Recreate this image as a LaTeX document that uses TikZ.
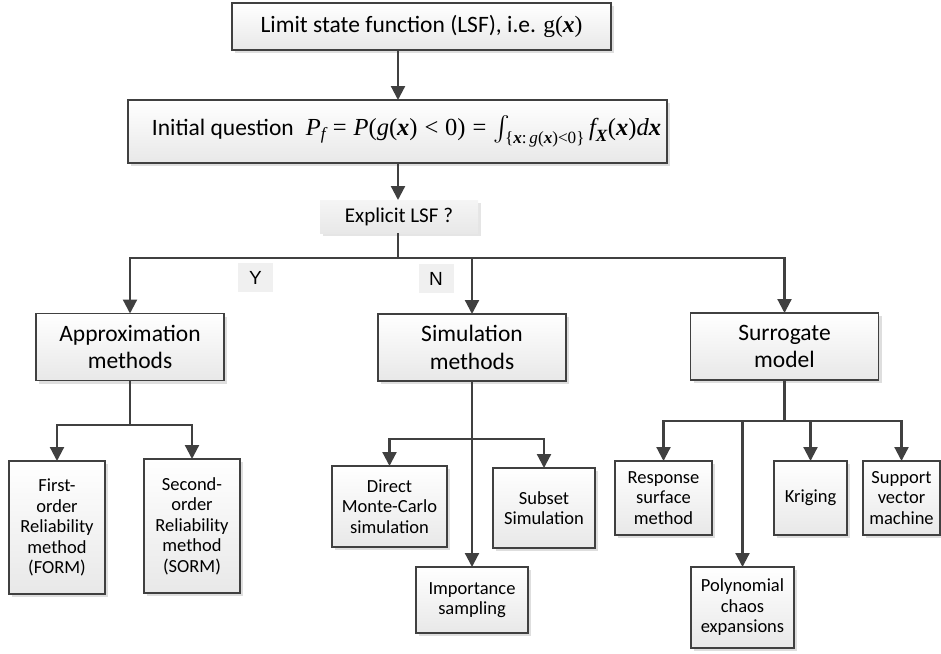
\documentclass[tikz,border=0pt]{standalone}
\usepackage{amsmath}
\usepackage[no-math]{fontspec}
\setmainfont{Carlito}
\newfontfamily\tms{Liberation Serif}
\newfontfamily\arl{Liberation Sans}
\newcommand{\ti}[1]{\text{\tms\itshape #1}}
\newcommand{\tb}[1]{\text{\tms\bfseries\itshape #1}}
\newcommand{\tr}[1]{\text{\tms #1}}
\newcommand{\teq}{\mathrel{\tr{=}}}
\newcommand{\tlt}{\mathrel{\tr{<}}}
\usetikzlibrary{arrows.meta,shadows}
\definecolor{ln}{HTML}{404040}
\definecolor{bot}{HTML}{E8E8E8}
\definecolor{lab}{HTML}{F0F0F0}
\tikzset{
  box/.style={draw=ln, line width=1.8pt, top color=white, bottom color=bot,
    drop shadow={shadow xshift=3pt, shadow yshift=-3pt, fill=black, opacity=0.13},
    align=center, inner sep=0pt, outer sep=0pt},
  dbox/.style={top color=white!96!black, bottom color=bot,
    drop shadow={shadow xshift=3pt, shadow yshift=-3pt, fill=black, opacity=0.10},
    align=center, inner sep=0pt, outer sep=0pt},
  labbox/.style={fill=lab, inner sep=0pt, outer sep=0pt, minimum width=35, minimum height=29,
    font=\arl\fontsize{19}{21}\selectfont},
  lvltwo/.style={box, minimum width=188, minimum height=67, font=\fontsize{23.5}{27.5}\selectfont},
  leaf/.style={box, font=\fontsize{18.5}{20.5}\selectfont},
  arr/.style={draw=ln, line width=2.2pt, line join=miter, -{Triangle[length=14pt,width=14pt]}},
  ln/.style={draw=ln, line width=2.2pt}
}
\begin{document}
\begin{tikzpicture}[x=1pt,y=-1pt]
\useasboundingbox (0,0) rectangle (941,653);
\coordinate (spine) at (398,0);
% top
\node[box, minimum width=379, minimum height=47, font=\fontsize{23.5}{27}\selectfont] (lsf) at (421.5,26.5)
  {Limit state function (LSF), i.e. {\tms g(\textbf{\textit{x}})}};
\node[box, minimum width=539, minimum height=63, font=\fontsize{23.5}{27}\selectfont] (iq) at (397.5,131.5)
  {\makebox[535pt][r]{Initial question\hspace{12pt}\fontsize{24.5}{28}\selectfont
  $\ti{P}_{\ti{f}}\teq\ti{P}\tr{(}\ti{g}\tr{(}\tb{x}\tr{)}\tlt\tr{0)}\teq
  \int_{\tr{\{}\tb{x}\tr{:}\,\ti{g}\tr{(}\tb{x}\tr{)}\tr{<0\}}}\ti{f}_{\tb{X}}\tr{(}\tb{x}\tr{)}\ti{d}\tb{x}$\hspace*{4pt}}};
\node[dbox, minimum width=158, minimum height=33, font=\fontsize{21}{24}\selectfont] (expl) at (399,216.5) {Explicit LSF ?};
\node[labbox] (yl) at (255.5,277.5) {Y};
\node[labbox] (nl) at (436,278.5) {N};
% level two
\node[lvltwo] (appr) at (130,347) {Approximation\\methods};
\node[lvltwo] (simu) at (472,347.5) {Simulation\\methods};
\node[lvltwo] (surr) at (784.5,346.5) {Surrogate\\model};
% leaves
\node[leaf, minimum width=96, minimum height=133] (form) at (57,527.5) {First-\\order\\Reliability\\method\\(FORM)};
\node[leaf, minimum width=96, minimum height=134] (sorm) at (192,526) {Second-\\order\\Reliability\\method\\(SORM)};
\node[leaf, minimum width=115, minimum height=81] (dmc) at (389.5,506.5) {Direct\\Monte-Carlo\\simulation};
\node[leaf, minimum width=102, minimum height=80] (subs) at (544,508) {Subset\\Simulation};
\node[leaf, minimum width=112, minimum height=66] (imp) at (472,600) {Importance\\sampling};
\node[leaf, minimum width=97, minimum height=74] (resp) at (663.5,498) {Response\\surface\\method};
\node[leaf, minimum width=103, minimum height=81] (poly) at (742.5,607.5) {Polynomial\\chaos\\expansions};
\node[leaf, minimum width=73, minimum height=74] (krig) at (810.5,498) {Kriging};
\node[leaf, minimum width=77, minimum height=74] (supp) at (901.5,498) {Support\\vector\\machine};
% connectors
\coordinate (split) at (398,258);
\coordinate (ab) at (130,425);
\coordinate (sb) at (472,439);
\coordinate (rb) at (784.5,421);
\draw[arr] (lsf.south -| spine) -- (iq.north -| spine);
\draw[arr] (iq.south -| spine) -- (expl.north -| spine);
\draw[ln] (expl.south -| spine) -- (split);
\draw[arr] (split) -| (appr.north);
\draw[arr] (split) -| (simu.north);
\draw[arr] (split) -| (surr.north);
\draw[ln] (appr.south) -- (ab);
\draw[arr] (ab) -| (form.north);
\draw[arr] (ab) -| (sorm.north);
\draw[arr] (simu.south) -- (imp.north);
\draw[arr] (sb) -| (dmc.north);
\draw[arr] (sb) -| (subs.north);
\draw[ln] (surr.south) -- (rb);
\draw[arr] (rb) -| (resp.north);
\draw[arr] (rb) -| (poly.north);
\draw[arr] (rb) -| (krig.north);
\draw[arr] (rb) -| (supp.north);
\end{tikzpicture}
\end{document}
